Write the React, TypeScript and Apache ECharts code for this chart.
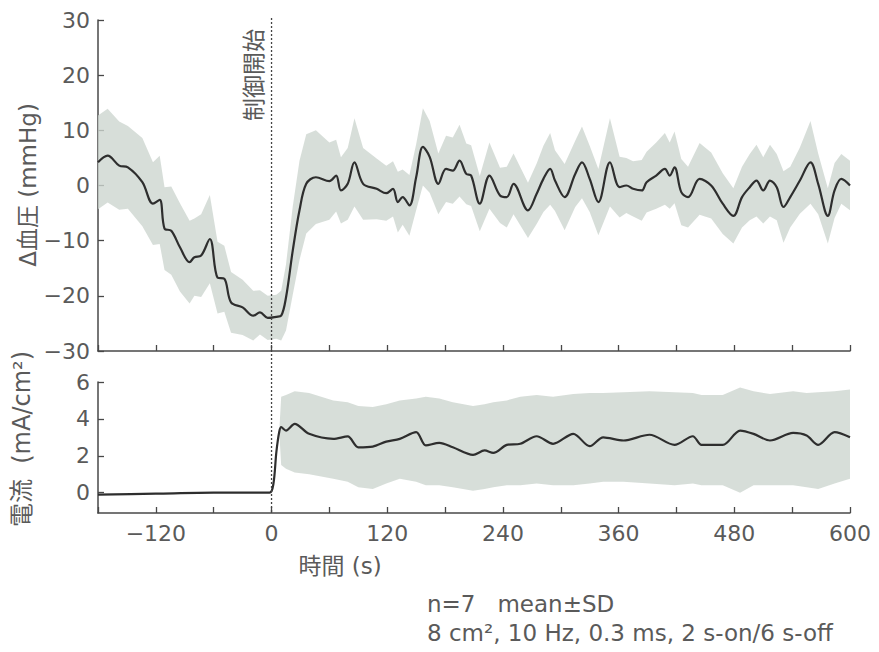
import React, { useEffect, useRef } from "react";
import * as echarts from "echarts";

// ---- Blood pressure (top panel) ----
const bpTime = [
  -180, -170, -158, -149, -134, -123, -116, -111, -104, -95,
  -85, -80, -73, -64, -56, -49, -42, -30, -19, -12,
  -4, 5, 10, 15, 22, 29, 36, 46, 60, 67,
  72, 79, 86, 95, 109, 119, 126, 131, 136, 143,
  150, 157, 164, 173, 181, 188, 195, 202, 207, 216,
  226, 237, 244, 251, 266, 275, 282, 289, 294, 304,
  315, 322, 330, 339, 351, 361, 368, 375, 384, 389,
  399, 408, 413, 418, 425, 432, 444, 456, 468, 479,
  488, 496, 503, 510, 517, 524, 531, 538, 548, 559,
  567, 577, 584, 591, 600,
];
const bpMean = [
  4.2, 5.4, 3.6, 3.3, 0.6, -3.3, -2.6, -7.8, -8.2, -11.2,
  -13.9, -13.0, -12.7, -9.7, -16.7, -16.9, -21.2, -22.1, -23.6, -23.0,
  -24.0, -23.8, -23.6, -20.3, -11.8, -4.5, 0.3, 1.5, 0.8, 1.8,
  -0.9, 0.3, 4.2, 0.3, -0.6, -1.4, -0.6, -3.0, -2.1, -3.6,
  1.5, 7.0, 5.2, 0.3, 3.0, 2.7, 4.5, 2.1, 1.8, -3.3,
  1.8, -1.8, -2.1, 0.3, -4.5, -1.5, 1.2, 3.0, 0.9, -2.1,
  2.1, 4.2, 1.2, -3.0, 4.2, -0.3, 0, -0.6, -0.9, 0.6,
  1.8, 3.0, 1.8, 3.3, -1.2, -2.1, 1.2, 0, -3.3, -5.5,
  -2.1, -0.3, 0.9, -0.9, 0.9, -0.3, -3.9, -2.1, 0.9, 4.2,
  0.3, -5.5, -0.9, 1.2, 0,
];
const bpSD = [
  8.5, 8.5, 8, 7.5, 8, 7.5, 8, 7.5, 8, 8,
  7.5, 7, 7.5, 8, 6.5, 6, 5.5, 5, 4.5, 4,
  4, 4, 4.5, 6, 8, 9, 9, 8.5, 7, 6.5,
  6, 6.5, 8, 6.5, 5.5, 5, 5, 5.5, 5, 5.5,
  6, 7, 6.5, 5.5, 6, 6, 6.5, 5.5, 5.5, 5,
  6, 5, 5.5, 5.5, 5, 5.5, 6, 6.5, 5.5, 6,
  6, 6.5, 6, 6, 8, 5.5, 5, 5, 5.5, 5.5,
  6, 6.5, 6, 6.5, 6, 5.5, 6.5, 6, 5.5, 5,
  5.5, 6, 6.5, 6, 6.5, 6, 6.5, 5.5, 6, 7.5,
  5.5, 5, 5, 4.5, 4.5,
];

// ---- Current (bottom panel) ----
const curTime = [
  -180, -120, -60, -2, 2, 5, 8, 10, 15, 24,
  39, 64, 79, 90, 105, 119, 133, 150, 160, 174,
  188, 209, 221, 230, 244, 258, 275, 292, 313, 330,
  344, 365, 392, 418, 437, 446, 468, 486, 500, 517,
  541, 555, 567, 584, 600,
];
const curMean = [
  -0.1, -0.05, 0, 0, 0.5, 2.2, 3.3, 3.55, 3.37, 3.73,
  3.19, 2.92, 3.05, 2.46, 2.5, 2.77, 2.92, 3.28, 2.56, 2.7,
  2.46, 2.05, 2.29, 2.16, 2.59, 2.65, 3.06, 2.65, 3.19, 2.52,
  3.0, 2.83, 3.14, 2.59, 3.06, 2.59, 2.59, 3.37, 3.19, 2.83,
  3.24, 3.1, 2.59, 3.28, 3.0,
];
const curHigh = [
  -0.1, -0.05, 0, 0, 0.5, 2.2, 3.3, 5.2, 5.3, 5.5,
  5.4, 5.0, 4.9, 4.7, 4.65, 4.8, 5.0, 5.1, 5.2, 5.1,
  4.9, 4.7, 4.8, 4.9, 5.0, 5.2, 5.3, 5.2, 5.35, 5.4,
  5.4, 5.45, 5.5, 5.45, 5.4, 5.3, 5.3, 5.7, 5.5, 5.35,
  5.5, 5.4, 5.45, 5.5, 5.6,
];
const curLow = [
  -0.1, -0.05, 0, 0, 0.5, 2.2, 3.3, 1.5, 1.3, 1.1,
  1.0, 0.75, 0.6, 0.3, 0.2, 0.5, 0.75, 0.6, 0.4, 0.4,
  0.3, 0.1, 0.2, 0.3, 0.4, 0.4, 0.5, 0.4, 0.4, 0.5,
  0.6, 0.6, 0.5, 0.4, 0.5, 0.4, 0.4, 0.0, 0.4, 0.4,
  0.4, 0.3, 0.2, 0.5, 0.75,
];

const xTicks = { min: -180, max: 600, interval: 60, labelStep: 120 };
const bpTicks = { min: -30, max: 30, interval: 10 };
const curTicks = { min: -1.1, max: 6, values: [0, 2, 4, 6] };
const controlStart = 0;

const FONT = "'DejaVu Sans', 'Noto Sans CJK JP', sans-serif";
const CJK = "'Noto Sans CJK JP', sans-serif";
const TXT = "#5a5a5a";
const AXIS = "#484848";
const BAND = "rgba(205,214,207,0.8)";

const fmt = (v: number) => (v < 0 ? "\u2212" + Math.abs(v) : String(v));

function bandSeries(times: number[], lo: number[], hi: number[], idx: number) {
  return {
    type: "custom",
    xAxisIndex: idx,
    yAxisIndex: idx,
    silent: true,
    z: 1,
    data: times.map((t, i) => [t, lo[i], hi[i]]),
    encode: { x: 0, y: [1, 2] },
    renderItem: (params: any, api: any) => {
      if (params.dataIndex !== 0) return null;
      const upper = times.map((t, i) => api.coord([t, hi[i]]));
      const lower = times.map((t, i) => api.coord([t, lo[i]])).reverse();
      return {
        type: "polygon",
        shape: { points: upper.concat(lower) },
        style: { fill: BAND, stroke: null },
      };
    },
  };
}

export default function App() {
  const ref = useRef<HTMLDivElement>(null);
  useEffect(() => {
    if (!ref.current) return;
    const chart = echarts.init(ref.current, null, { renderer: "svg" });
    const xAxisBase = {
      type: "value",
      min: xTicks.min,
      max: xTicks.max,
      interval: xTicks.interval,
      splitLine: { show: false },
      axisLine: { show: true, onZero: false, lineStyle: { color: AXIS, width: 1.5 } },
      axisTick: { show: true, inside: true, length: 6, lineStyle: { color: AXIS, width: 1.3 } },
    };
    const yAxisBase = {
      type: "value",
      splitLine: { show: false },
      axisLine: { show: true, onZero: false, lineStyle: { color: AXIS, width: 1.5 } },
      axisTick: { show: true, inside: true, length: 6, lineStyle: { color: AXIS, width: 1.3 } },
      axisLabel: { color: TXT, fontSize: 22, fontFamily: FONT, margin: 8, formatter: fmt },
    };
    chart.setOption({
      animation: false,
      backgroundColor: "#fff",
      grid: [
        { left: 98, top: 20, width: 752, height: 331 },
        { left: 98, top: 382, width: 752, height: 131 },
      ],
      xAxis: [
        { ...xAxisBase, gridIndex: 0, axisLabel: { show: false } },
        {
          ...xAxisBase,
          gridIndex: 1,
          axisLabel: {
            color: TXT,
            fontSize: 22,
            fontFamily: FONT,
            margin: 9,
            formatter: (v: number) => (v % xTicks.labelStep === 0 ? fmt(v) : ""),
          },
        },
      ],
      yAxis: [
        { ...yAxisBase, gridIndex: 0, min: bpTicks.min, max: bpTicks.max, interval: bpTicks.interval },
        {
          ...yAxisBase,
          gridIndex: 1,
          min: curTicks.min,
          max: curTicks.max,
          axisLabel: { ...yAxisBase.axisLabel, customValues: curTicks.values },
          axisTick: { ...yAxisBase.axisTick, customValues: curTicks.values },
        },
      ],
      series: [
        bandSeries(bpTime, bpTime.map((_, i) => bpMean[i] - bpSD[i]), bpTime.map((_, i) => bpMean[i] + bpSD[i]), 0),
        {
          type: "line",
          xAxisIndex: 0,
          yAxisIndex: 0,
          data: bpTime.map((t, i) => [t, bpMean[i]]),
          showSymbol: false,
          smooth: 0.35,
          z: 3,
          lineStyle: { color: "#2e2e2e", width: 2.2 },
        },
        bandSeries(curTime, curLow, curHigh, 1),
        {
          type: "line",
          xAxisIndex: 1,
          yAxisIndex: 1,
          data: curTime.map((t, i) => [t, curMean[i]]),
          showSymbol: false,
          smooth: 0.3,
          z: 3,
          lineStyle: { color: "#2e2e2e", width: 2.2 },
        },
      ],
    });
    const x0 = chart.convertToPixel({ xAxisIndex: 0 }, controlStart) as number;
    const yTop = 18;
    const yBot = chart.convertToPixel({ yAxisIndex: 1 }, curTicks.min) as number;
    chart.setOption({
      graphic: [
        {
          type: "line",
          shape: { x1: x0, y1: yTop, x2: x0, y2: yBot },
          style: { stroke: "#444", lineWidth: 1.3, lineDash: [2, 2] },
          z: 10,
        },
        {
          type: "text",
          x: 252,
          y: 75,
          rotation: Math.PI / 2,
          style: { text: "制御開始", fontSize: 23, fontFamily: CJK, fill: TXT, align: "center", verticalAlign: "middle" },
        },
        {
          type: "text",
          x: 28,
          y: 185,
          rotation: Math.PI / 2,
          style: { text: "Δ血圧 (mmHg)", fontSize: 23, fontFamily: FONT, fill: TXT, align: "center", verticalAlign: "middle" },
        },
        {
          type: "text",
          x: 22,
          y: 439,
          rotation: Math.PI / 2,
          style: { text: "電流  (mA/cm²)", fontSize: 24, fontFamily: FONT, fill: TXT, align: "center", verticalAlign: "middle" },
        },
        {
          type: "text",
          x: 340,
          y: 566,
          style: { text: "時間 (s)", fontSize: 23, fontFamily: FONT, fill: TXT, align: "center", verticalAlign: "middle" },
        },
        {
          type: "text",
          x: 427,
          y: 604,
          style: { text: "n=7   mean±SD", fontSize: 23, fontFamily: FONT, fill: TXT, align: "left", verticalAlign: "middle" },
        },
        {
          type: "text",
          x: 427,
          y: 633,
          style: { text: "8 cm², 10 Hz, 0.3 ms, 2 s-on/6 s-off", fontSize: 23, fontFamily: FONT, fill: TXT, align: "left", verticalAlign: "middle" },
        },
      ],
    });
    return () => chart.dispose();
  }, []);
  return <div ref={ref} style={{ position: "fixed", left: 0, top: 0, width: 879, height: 652 }} />;
}
